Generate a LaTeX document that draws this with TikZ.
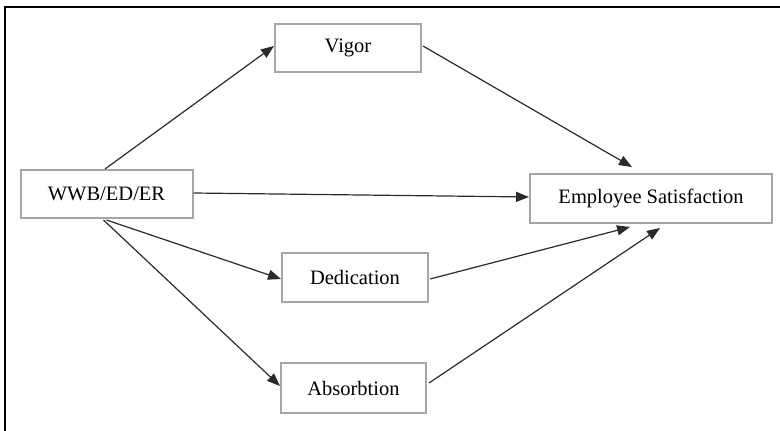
\documentclass[tikz,border=0pt]{standalone}
\usepackage{fontspec}
\setmainfont{Liberation Serif}
\usetikzlibrary{arrows.meta,calc}
\definecolor{boxgray}{HTML}{A6A6A6}
\definecolor{linegray}{HTML}{2A2A2A}
\tikzset{
  varbox/.style={draw=boxgray, line width=2pt, fill=white, inner sep=0pt,
    font=\fontsize{20.5}{24}\selectfont},
  conn/.style={draw=linegray, line width=1.2pt, -{Triangle[length=13pt,width=10pt]}},
  frameline/.style={draw=black, line width=2.6pt}
}
\begin{document}
\begin{tikzpicture}[x=1pt,y=-1pt]
\useasboundingbox (0,0) rectangle (780,431);
\draw[frameline] (5,431) -- (5,7) -- (780,7);

\node[varbox, minimum width=172pt, minimum height=48pt] (w) at (106.5,194) {WWB/ED/ER};
\node[varbox, minimum width=146pt, minimum height=48pt] (v) at (348,48) {Vigor};
\node[varbox, minimum width=242pt, minimum height=49pt] (es) at (651,198.5) {Employee Satisfaction};
\node[varbox, minimum width=146pt, minimum height=49pt] (d) at (355,277.5) {Dedication};
\node[varbox, minimum width=145pt, minimum height=50pt] (a) at (353.5,388) {Absorbtion};

\draw[conn] ($(w.north)+(-1.5,0)$) -- ($(v.west)+(0,-2)$);
\draw[conn] ($(v.east)+(1,-2)$) -- ($(es.north)+(-19,-6)$);
\draw[conn] ($(w.east)+(0,-1)$) -- ($(es.west)+(0,-1.5)$);
\draw[conn] ($(w.south)+(0,1)$) -- ($(d.west)+(0,1.5)$);
\draw[conn] ($(w.south)+(-3,1)$) -- ($(a.west)+(0,-2)$);
\draw[conn] ($(d.east)+(1,1.5)$) -- ($(es.south)+(-21,3)$);
\draw[conn] ($(a.east)+(2,-5)$) -- ($(es.south)+(9,4)$);
\end{tikzpicture}
\end{document}
